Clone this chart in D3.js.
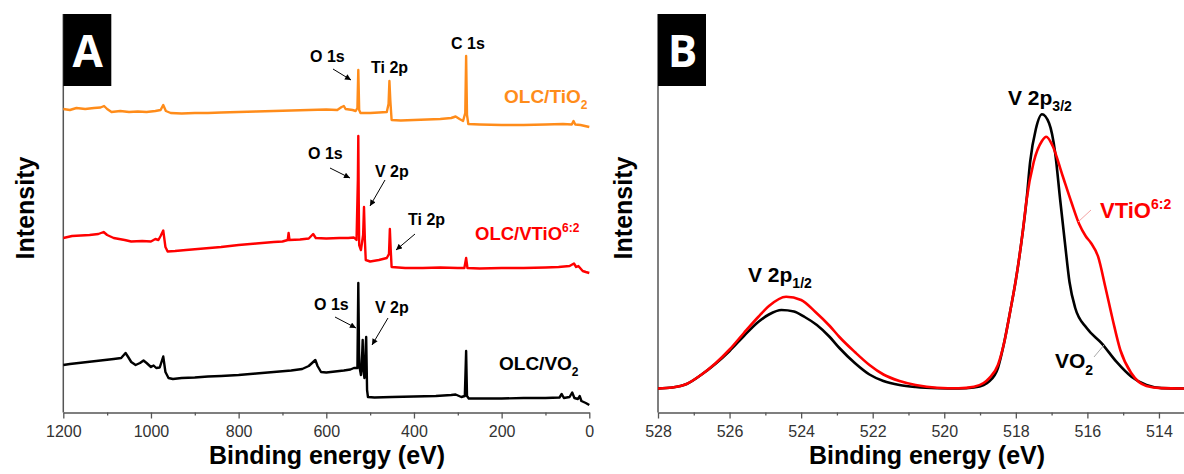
<!DOCTYPE html>
<html>
<head>
<meta charset="utf-8">
<script src="https://cdn.jsdelivr.net/npm/d3@7"></script>
<style>
  body { margin: 0; background: #fff; }
  text { font-family: "Liberation Sans", Arial, sans-serif; }
</style>
</head>
<body>
<script>
// XPS survey (A) and V 2p detail (B)
const W = 1184, H = 474;

// --- panel A: survey spectra, [binding energy eV, intensity a.u. (offset)] ---
const surveyTiO2 = [
  [1200,303],[1185,302],[1170,304],[1150,303],[1130,304],[1115,304.5],[1107,306],[1100,303],
  [1090,300],[1070,301],[1050,300],[1030,300.5],[1010,300],[990,301],[978,302],[972,307],
  [966,301],[955,299],[930,298.5],[900,299],[870,299],[840,299.5],[800,300],[760,300.5],
  [720,301],[680,301.5],[640,302],[600,302.5],[575,302],[565,305],[560,306],[556,303],[540,302],
  [533,301],[529,304],[527,342],[525,302],[522,299],[500,299],[480,299.5],[462,300],
  [458,308],[456,331],[454,312],[451,292],[430,291.5],[400,292],[370,292.5],[340,293],
  [315,294],[305,295.5],[296,293],[288,291],[283,299],[281,356],[279,297],[276,288],
  [250,287.5],[200,287],[150,287],[100,287.5],[60,288],[40,287.5],[36,291],[32,287.5],
  [20,287],[10,286],[0,285]
];
const surveyVTiO = [
  [1200,174],[1180,176],[1160,176.5],[1140,177],[1120,178],[1108,180],[1100,177],[1085,174],
  [1060,172],[1045,170.5],[1020,171],[1000,170.5],[990,173],[983,172],[978,176],[972,181.5],
  [967,165],[962,160.5],[945,161],[920,162],[880,163.5],[840,165],[800,167],[760,168.5],
  [720,170],[700,170.5],[688,172],[686,179],[684,172],[660,172.5],[640,173.5],[630,178],
  [624,174],[600,173.5],[570,174],[550,174],[537,174.5],[531,172],[528,232],[527,276],
  [526,212],[525,167],[521,162],[516,177],[514,205],[512,172],[510,152],[500,150.5],
  [480,152],[462,154],[457,158],[455,183],[453,162],[451,145],[420,144],[380,144],
  [340,144.5],[300,144],[285,144],[281,154],[278,144],[250,143.5],[200,144],[150,144],
  [100,144.5],[70,145],[45,146],[35,148.5],[30,145],[25,146],[15,141],[8,140],[0,139]
];
const surveyVO2 = [
  [1200,47],[1185,48],[1165,49],[1145,50],[1125,51],[1105,52],[1085,53],[1068,54],
  [1058,59],[1052,55],[1045,50],[1035,47],[1025,49],[1017,51.5],[1010,49],[1000,45],
  [994,46.5],[988,44],[980,44.5],[972,55.5],[967,40],[960,34],[950,33],[930,34],
  [900,34.5],[870,35.5],[840,36],[800,37],[760,38.5],[720,40],[680,41.5],[655,43],
  [640,46],[630,50],[625,52],[620,46],[612,40],[600,39.5],[580,40.5],[560,41.5],
  [545,42.5],[537,44],[529,44],[527,129],[525,47],[521,37],[518,60],[517,72],
  [516,44],[513,34],[510,67],[509,75],[507,22],[505,15],[490,14.5],[450,15],[400,15.5],
  [350,16],[315,17],[305,17.5],[292,15],[284,16],[281,61],[279,16],[275,13.5],
  [240,13.5],[200,13.5],[150,14],[100,14],[68,14.5],[63,18],[58,14],[45,15],
  [39,19.5],[34,14],[26,13],[22,16],[18,11],[8,9],[0,7]
];

// --- panel B: V 2p high resolution ---
const hiresVO2 = [
  [528,23.5],[527.6,24.5],[527.2,28],[526.8,37],[526.4,48],[526,61],[525.6,76],[525.2,90],
  [524.9,97.5],[524.55,102],[524.2,100.5],[523.9,95],[523.56,87],[523.2,75],[522.93,64],
  [522.5,49],[522.09,37.5],[521.7,31],[521.25,27],[520.8,25],[520.2,23.8],[519.6,23.5],
  [519.17,24.5],[518.9,27],[518.75,30.5],[518.5,44],[518.33,68.7],[518.15,102],[518,132],
  [517.8,182],[517.7,212],[517.6,250],[517.44,283],[517.27,297.7],[517.07,288.7],
  [516.9,259],[516.76,212],[516.63,170],[516.5,130],[516.34,104],[516.02,84],
  [515.6,68.7],[515.19,50.3],[514.77,35.3],[514.35,27],[513.93,23.9],[513.3,23.5]
];
const hiresVTiO = [
  [528,23.5],[527.6,24.5],[527.2,28],[526.8,37],[526.4,48.5],[526,62.5],[525.6,79],[525.2,95],
  [524.9,106],[524.42,115.3],[524,112],[523.6,100],[523.2,86],[522.93,75],[522.5,60],
  [522.09,47],[521.7,37.5],[521.25,31],[520.8,27],[520.2,24.3],[519.6,23.8],[519.17,25.3],
  [518.9,29],[518.75,33.7],[518.5,47],[518.33,68.7],[518.15,102],[518,132],[517.8,182],
  [517.7,212],[517.5,250],[517.27,271],[517.15,275.3],[516.97,266],[516.7,237],
  [516.44,209],[516.23,188],[516.05,176],[515.9,169],[515.7,155.3],
  [515.5,125.3],[515.29,92],[515.08,62],[514.77,38.7],[514.35,26],[513.93,23.9],[513.3,23.5]
];

const ticksA = [1200, 1000, 800, 600, 400, 200, 0];
const minorA = [1100, 900, 700, 500, 300, 100];
const ticksB = [528, 526, 524, 522, 520, 518, 516, 514];
const minorB = [527, 525, 523, 521, 519, 517, 515];

const svg = d3.select("body").append("svg").attr("width", W).attr("height", H);

svg.append("defs").append("marker")
  .attr("id", "arr")
  .attr("viewBox", "0 0 10 10")
  .attr("refX", 10).attr("refY", 5)
  .attr("markerUnits", "userSpaceOnUse")
  .attr("markerWidth", 7).attr("markerHeight", 6)
  .attr("orient", "auto")
  .append("path").attr("d", "M0,0L10,5L0,10z").attr("fill", "#000");

const AXIS_Y = 412.5;
const axisColor = "#555";

function drawAxes(x, ticks, minor, fmt, left, titleX, intensityX, letter) {
  const gx = svg.append("g").attr("transform", `translate(0,${AXIS_Y})`)
    .call(d3.axisBottom(x).tickValues(ticks).tickSize(6).tickPadding(7).tickSizeOuter(0).tickFormat(fmt));
  gx.select(".domain").attr("stroke", axisColor).attr("stroke-width", 1.5);
  gx.selectAll(".tick line").attr("stroke", axisColor).attr("stroke-width", 1.3);
  gx.selectAll(".tick text").attr("fill", "#333").style("font-size", "16px")
    .style("font-family", "'Liberation Sans', Arial, sans-serif");

  const gm = svg.append("g").attr("transform", `translate(0,${AXIS_Y})`)
    .call(d3.axisBottom(x).tickValues(minor).tickSize(3).tickFormat(""));
  gm.select(".domain").remove();
  gm.selectAll(".tick line").attr("stroke", axisColor).attr("stroke-width", 1.3);

  svg.append("line")
    .attr("x1", left).attr("x2", left).attr("y1", 14).attr("y2", AXIS_Y)
    .attr("stroke", axisColor).attr("stroke-width", 1.5);

  svg.append("text").attr("x", titleX).attr("y", 464)
    .attr("text-anchor", "middle").attr("font-weight", "bold").attr("font-size", 25)
    .text("Binding energy (eV)");
  svg.append("text")
    .attr("transform", `translate(${intensityX},208) rotate(-90)`)
    .attr("text-anchor", "middle").attr("font-weight", "bold").attr("font-size", 25)
    .text("Intensity");

  // panel letter box
  svg.append("rect").attr("x", left).attr("y", 14).attr("width", 48).attr("height", 72).attr("fill", "#000");
  svg.append("text").attr("x", left + 24.5).attr("y", 66.5)
    .attr("text-anchor", "middle").attr("fill", "#fff").attr("font-weight", "bold").attr("font-size", 44)
    .style("font-family", "'Open Sans', sans-serif")
    .text(letter);
}

// ---------- Panel A ----------
const xA = d3.scaleLinear().domain([1200, 0]).range([63.3, 589.3]);
const yA = d3.scaleLinear().domain([0, 400]).range([412, 12]);
drawAxes(xA, ticksA, minorA, d3.format("d"), 63.3, 327, 34, "A");

const lineA = d3.line().x(d => xA(d[0])).y(d => yA(d[1]));
[[surveyTiO2, "#ff8c1a"], [surveyVTiO, "#ff0000"], [surveyVO2, "#000"]].forEach(([data, c]) => {
  svg.append("path").datum(data).attr("d", lineA)
    .attr("fill", "none").attr("stroke", c).attr("stroke-width", 2.4).attr("stroke-linejoin", "round");
});

function label(x, y, txt, size = 16, color = "#000") {
  return svg.append("text").attr("x", x).attr("y", y).attr("font-weight", "bold")
    .attr("font-size", size).attr("fill", color).text(txt);
}
function arrow(x1, y1, x2, y2) {
  svg.append("line").attr("x1", x1).attr("y1", y1).attr("x2", x2).attr("y2", y2)
    .attr("stroke", "#000").attr("stroke-width", 1).attr("marker-end", "url(#arr)");
}

// top trace annotations
label(310, 62, "O 1s");
arrow(333, 69, 351, 80);
label(371, 73, "Ti 2p");
label(451, 49, "C 1s");
label(504, 103, "OLC/TiO", 19, "#ff8c1a")
  .append("tspan").attr("dy", 6).attr("font-size", 12).text("2");

// middle trace annotations
label(308, 159, "O 1s");
arrow(330, 168, 350, 178);
label(375, 177, "V 2p");
arrow(385, 180, 370, 206);
label(408, 225, "Ti 2p");
arrow(415, 234, 396, 250);
label(475, 240, "OLC/VTiO", 18.5, "#ff0000")
  .append("tspan").attr("dy", -8).attr("font-size", 12).text("6:2");

// bottom trace annotations
label(314, 310, "O 1s");
arrow(335, 317, 356, 328);
label(375, 313, "V 2p");
arrow(388, 318, 372, 345);
label(499, 370, "OLC/VO", 19)
  .append("tspan").attr("dy", 6).attr("font-size", 12).text("2");

// ---------- Panel B ----------
const xB = d3.scaleLinear().domain([528, 513.3]).range([658, 1184]);
const yB = d3.scaleLinear().domain([0, 400]).range([412, 12]);
drawAxes(xB, ticksB, minorB, d3.format("d"), 658, 927, 632, "B");

const lineB = d3.line().x(d => xB(d[0])).y(d => yB(d[1])).curve(d3.curveMonotoneX);
[[hiresVO2, "#000"], [hiresVTiO, "#ff0000"]].forEach(([data, c]) => {
  svg.append("path").datum(data).attr("d", lineB)
    .attr("fill", "none").attr("stroke", c).attr("stroke-width", 2.6);
});

label(1008, 105, "V 2p", 21)
  .append("tspan").attr("dy", 6).attr("font-size", 14).text("3/2");
label(748, 282, "V 2p", 21)
  .append("tspan").attr("dy", 6).attr("font-size", 14).text("1/2");
label(1100, 218, "VTiO", 22, "#ff0000")
  .append("tspan").attr("dy", -9).attr("font-size", 14).text("6:2");
svg.append("line").attr("x1", 1091).attr("y1", 210).attr("x2", 1078).attr("y2", 222)
  .attr("stroke", "#f4a3a3").attr("stroke-width", 1);
label(1055, 368, "VO", 21)
  .append("tspan").attr("dy", 7).attr("font-size", 14).text("2");
svg.append("line").attr("x1", 1094).attr("y1", 357).attr("x2", 1104).attr("y2", 345)
  .attr("stroke", "#aaa").attr("stroke-width", 1);
</script>
</body>
</html>
